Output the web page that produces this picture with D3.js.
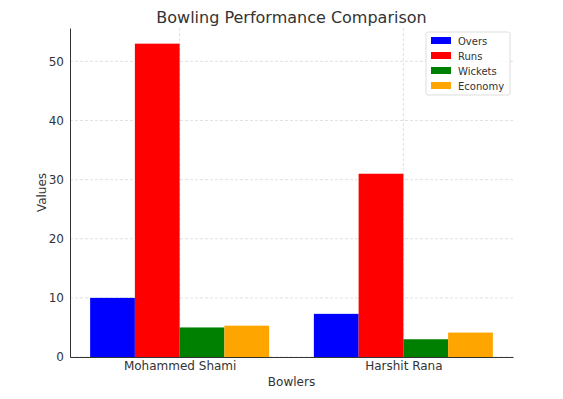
<!DOCTYPE html>
<html>
<head>
<meta charset="utf-8">
<script src="https://cdn.jsdelivr.net/npm/d3@7"></script>
<style>
  body { margin: 0; background: #fff; }
  svg { font-family: "DejaVu Sans", sans-serif; }
</style>
</head>
<body>
<svg id="chart" width="563" height="399"></svg>
<script>
const bowlers = ["Mohammed Shami", "Harshit Rana"];
const metrics = ["Overs", "Runs", "Wickets", "Economy"];
const colors = ["#0000ff", "#ff0000", "#008000", "#ffa500"];
const overs = [10, 7.3];
const runs = [53, 31];
const wickets = [5, 3];
const economy = [5.3, 4.13];
const yTicks = [0, 10, 20, 30, 40, 50];

const series = [overs, runs, wickets, economy];
const margin = { left: 70, right: 50, top: 28, bottom: 42 };
const width = 563, height = 399;
const textColor = "#333";

const svg = d3.select("#chart");

// matplotlib-style numeric x: bars at i + k*0.2, ticks at i + 0.3
const barW = 0.2;
const x = d3.scaleLinear()
    .domain([-0.1 - 0.09, 1.7 + 0.09])
    .range([margin.left, width - margin.right]);
const y = d3.scaleLinear()
    .domain([0, 53 * 1.05])
    .range([height - margin.bottom, margin.top]);

const grid = svg.append("g").attr("stroke", "#d9d9d9").attr("stroke-dasharray", "3,2").attr("stroke-width", 0.8);
grid.selectAll(".h").data(yTicks).join("line")
    .attr("x1", margin.left).attr("x2", width - margin.right)
    .attr("y1", d => y(d)).attr("y2", d => y(d));
grid.selectAll(".v").data(bowlers).join("line")
    .attr("x1", (d, i) => x(i + 0.3)).attr("x2", (d, i) => x(i + 0.3))
    .attr("y1", margin.top).attr("y2", height - margin.bottom);

// bars
series.forEach((vals, k) => {
    svg.append("g").attr("fill", colors[k])
        .selectAll("rect").data(vals).join("rect")
        .attr("x", (d, i) => x(i + k * barW - barW / 2))
        .attr("width", x(barW) - x(0))
        .attr("y", d => y(d))
        .attr("height", d => y(0) - y(d));
});

// axes
const yAxis = svg.append("g")
    .attr("transform", `translate(${margin.left},0)`)
    .call(d3.axisLeft(y).tickValues(yTicks).tickSize(0).tickPadding(6));
const xAxis = svg.append("g")
    .attr("transform", `translate(0,${height - margin.bottom})`)
    .call(d3.axisBottom(x).tickValues([0.3, 1.3]).tickFormat((d, i) => bowlers[i]).tickSize(0).tickPadding(4));
[xAxis, yAxis].forEach(a => {
    a.select(".domain").attr("stroke", "#333").attr("stroke-width", 1);
    a.selectAll("text").attr("fill", textColor).attr("font-size", 12).attr("font-family", "DejaVu Sans");
});

// titles
svg.append("text").attr("x", (margin.left + width - margin.right) / 2).attr("y", 23)
    .attr("text-anchor", "middle").attr("font-size", 16).attr("fill", textColor)
    .text("Bowling Performance Comparison");
svg.append("text").attr("x", (margin.left + width - margin.right) / 2).attr("y", 386)
    .attr("text-anchor", "middle").attr("font-size", 12).attr("fill", textColor)
    .text("Bowlers");
svg.append("text").attr("transform", `translate(46,${(margin.top + height - margin.bottom) / 2}) rotate(-90)`)
    .attr("text-anchor", "middle").attr("font-size", 12).attr("fill", textColor)
    .text("Values");

// legend
const lg = svg.append("g").attr("transform", "translate(426,32)");
lg.append("rect").attr("width", 84).attr("height", 63).attr("rx", 2)
    .attr("fill", "#fff").attr("fill-opacity", 0.85).attr("stroke", "#ddd");
const items = lg.selectAll("g").data(metrics).join("g")
    .attr("transform", (d, i) => `translate(5,${9 + i * 15})`);
items.append("rect").attr("width", 20).attr("height", 7).attr("y", -4)
    .attr("fill", (d, i) => colors[i]);
items.append("text").attr("x", 27).attr("y", 4).attr("font-size", 10)
    .attr("fill", textColor).text(d => d);
</script>
</body>
</html>
